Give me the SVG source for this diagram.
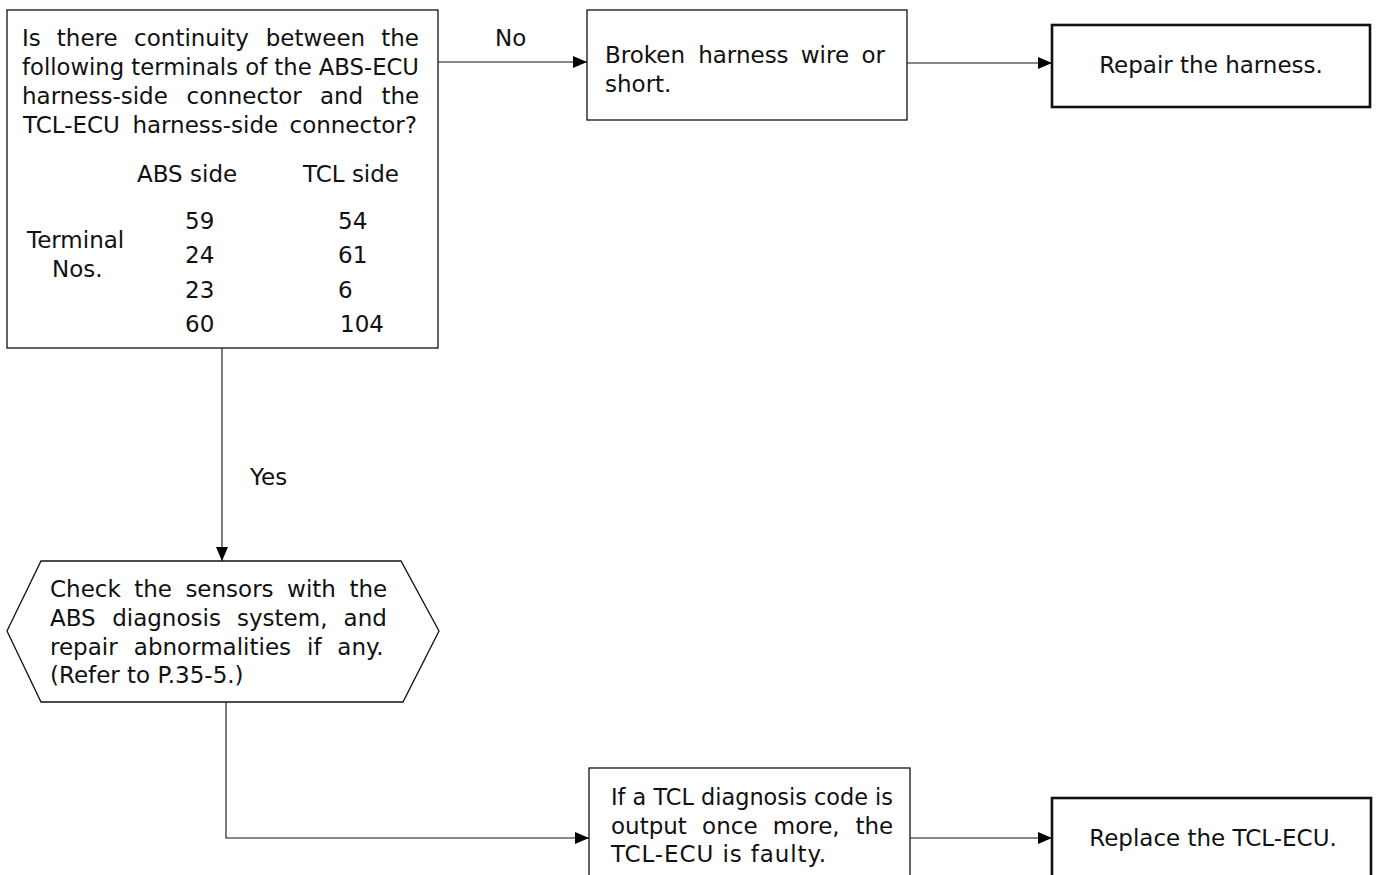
<svg xmlns="http://www.w3.org/2000/svg" width="1377" height="875" viewBox="0 0 1377 875">
  <defs>
    <marker id="arrow" viewBox="0 0 14 12" refX="14" refY="6" markerWidth="14" markerHeight="12" markerUnits="userSpaceOnUse" orient="auto">
      <path d="M0,0 L14,6 L0,12 Z" fill="#000"/>
    </marker>
    <style>
      text { font-family: "DejaVu Sans", "Liberation Sans", sans-serif; font-size: 23px; fill: #111; }
      .box { fill: #fff; stroke: #111; stroke-width: 1.3; }
      .end { fill: #fff; stroke: #111; stroke-width: 2.6; }
      .wire { fill: none; stroke: #111; stroke-width: 1.1; marker-end: url(#arrow); }
    </style>
  </defs>

  <rect width="1377" height="875" fill="#fff"/>

  <!-- connectors -->
  <g id="connectors">
    <line class="wire" x1="438" y1="62" x2="587" y2="62"/>
    <line class="wire" x1="907" y1="63" x2="1052" y2="63"/>
    <line class="wire" x1="222" y1="348" x2="222" y2="561"/>
    <polyline class="wire" points="226,702 226,838 589,838"/>
    <line class="wire" x1="910" y1="838" x2="1052" y2="838"/>
    <text x="495" y="46">No</text>
    <text x="250" y="485">Yes</text>
  </g>

  <!-- continuity check -->
  <g id="check-continuity">
    <rect class="box" x="7" y="10" width="431" height="338"/>
    <text y="46"><tspan x="22">Is</tspan><tspan x="56.8">there</tspan><tspan x="134.1">continuity</tspan><tspan x="265.7">between</tspan><tspan x="381.2">the</tspan></text>
    <text x="22" y="75" textLength="397" lengthAdjust="spacingAndGlyphs">following terminals of the ABS-ECU</text>
    <text y="104"><tspan x="22">harness-side</tspan><tspan x="186.5">connector</tspan><tspan x="319.9">and</tspan><tspan x="381.4">the</tspan></text>
    <text y="133"><tspan x="23">TCL-ECU</tspan><tspan x="132.4">harness-side</tspan><tspan x="289.5">connector?</tspan></text>
    <text x="137" y="182">ABS side</text>
    <text x="303" y="182">TCL side</text>
    <text x="27" y="248">Terminal</text>
    <text x="52" y="277">Nos.</text>
    <text x="185" y="229">59</text>
    <text x="185" y="263">24</text>
    <text x="185" y="298">23</text>
    <text x="185" y="332">60</text>
    <text x="338" y="229">54</text>
    <text x="338" y="263">61</text>
    <text x="338" y="298">6</text>
    <text x="340" y="332">104</text>
  </g>

  <!-- broken wire -->
  <g id="broken-wire">
    <rect class="box" x="587" y="10" width="320" height="110"/>
    <text y="63"><tspan x="605">Broken</tspan><tspan x="698.2">harness</tspan><tspan x="800.8">wire</tspan><tspan x="861.4">or</tspan></text>
    <text x="605" y="92">short.</text>
  </g>

  <!-- repair harness -->
  <g id="repair-harness">
    <rect class="end" x="1052" y="25" width="318" height="82"/>
    <text x="1211" y="73" text-anchor="middle">Repair the harness.</text>
  </g>

  <!-- sensor check -->
  <g id="sensor-check">
    <polygon class="box" points="41,561 401,561 439,631 403,702 41,702 7,631"/>
    <text y="597"><tspan x="50">Check</tspan><tspan x="134.2">the</tspan><tspan x="185.4">sensors</tspan><tspan x="287.1">with</tspan><tspan x="349.4">the</tspan></text>
    <text y="626"><tspan x="50">ABS</tspan><tspan x="112.2">diagnosis</tspan><tspan x="237">system,</tspan><tspan x="343.6">and</tspan></text>
    <text y="655"><tspan x="50">repair</tspan><tspan x="133.8">abnormalities</tspan><tspan x="307.1">if</tspan><tspan x="337.3">any.</tspan></text>
    <text x="50" y="683">(Refer to P.35-5.)</text>
  </g>

  <!-- TCL code recheck -->
  <g id="tcl-recheck">
    <rect class="box" x="589" y="768" width="321" height="120"/>
    <text x="611" y="805" textLength="282" lengthAdjust="spacingAndGlyphs">If a TCL diagnosis code is</text>
    <text y="834"><tspan x="611">output</tspan><tspan x="702.1">once</tspan><tspan x="772.8">more,</tspan><tspan x="855.4">the</tspan></text>
    <text x="611" y="862" textLength="215" lengthAdjust="spacing">TCL-ECU is faulty.</text>
  </g>

  <!-- replace ECU -->
  <g id="replace-ecu">
    <rect class="end" x="1052" y="798" width="319" height="90"/>
    <text x="1213" y="846" text-anchor="middle">Replace the TCL-ECU.</text>
  </g>
</svg>
